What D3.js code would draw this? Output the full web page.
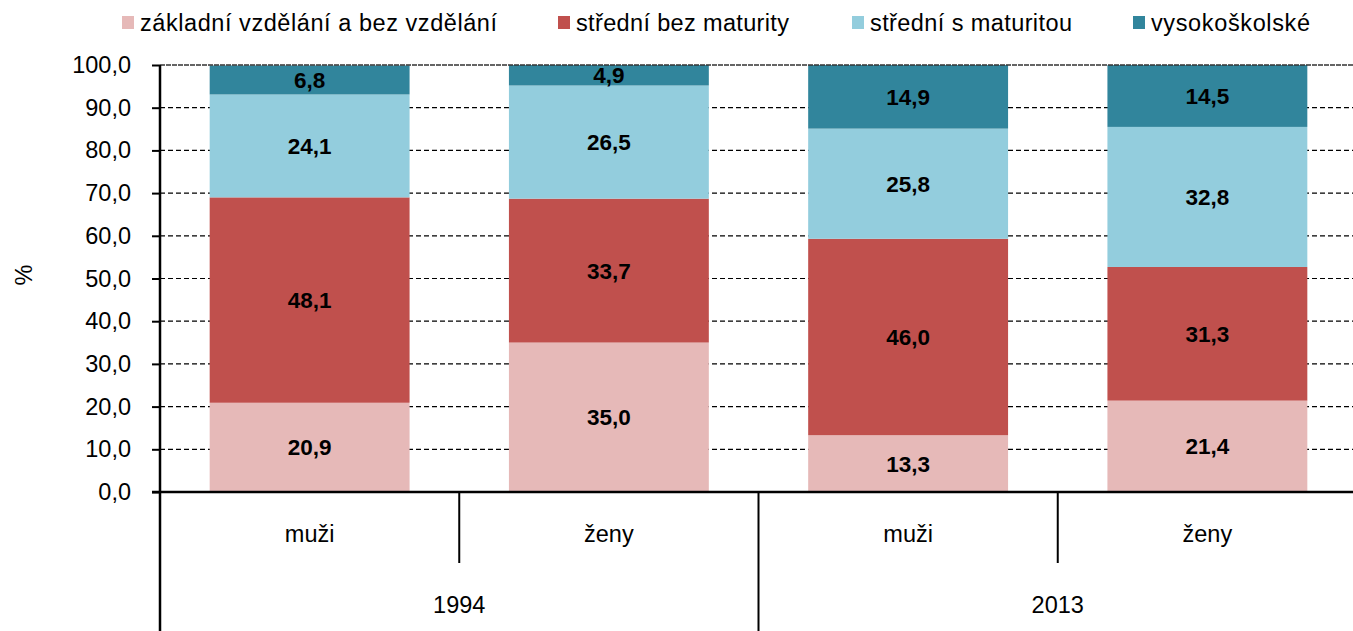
<!DOCTYPE html>
<html>
<head>
<meta charset="utf-8">
<script src="https://cdn.jsdelivr.net/npm/d3@7"></script>
<style>
  body { margin: 0; background: #fff; }
  text { font-family: Arial, "Liberation Sans", sans-serif; fill: #000; }
</style>
</head>
<body>
<div id="chart"></div>
<script>
// data
const years = ["1994", "2013"];
const sexes = ["muži", "ženy"];
const seriesNames = ["základní vzdělání a bez vzdělání", "střední bez maturity", "střední s maturitou", "vysokoškolské"];
const zakladni = [20.9, 35.0, 13.3, 21.4];
const stredniBez = [48.1, 33.7, 46.0, 31.3];
const stredniS = [24.1, 26.5, 25.8, 32.8];
const vysoko = [6.8, 4.9, 14.9, 14.5];
const yTicks = [0, 10, 20, 30, 40, 50, 60, 70, 80, 90, 100];

const colors = ["#E6B9B8", "#C0504D", "#93CDDD", "#31859C"];
const seriesKeys = ["s0", "s1", "s2", "s3"];
const seriesValues = [zakladni, stredniBez, stredniS, vysoko];

const rows = [];
years.forEach((yr, i) => sexes.forEach((sx, j) => {
  const idx = i * sexes.length + j;
  const r = { key: yr + "|" + sx, year: yr, sex: sx };
  seriesKeys.forEach((k, s) => r[k] = seriesValues[s][idx]);
  rows.push(r);
}));

const W = 1353, H = 631;
const plotLeft = 160, plotRight = 1357, plotTop = 65, plotBottom = 492;
const fontSize = "23.5px";

const svg = d3.select("#chart").append("svg")
  .attr("width", W).attr("height", H);

const x = d3.scaleBand()
  .domain(rows.map(d => d.key))
  .range([plotLeft, plotRight])
  .paddingInner(0.332)
  .paddingOuter(0.166);

const y = d3.scaleLinear().domain([0, 100]).range([plotBottom, plotTop]).clamp(true);

const fmt = v => v.toFixed(1).replace(".", ",");

// gridlines
svg.append("g")
  .selectAll("line")
  .data(yTicks.filter(t => t > 0 && t < 100))
  .enter().append("line")
  .attr("x1", plotLeft).attr("x2", W)
  .attr("y1", d => y(d)).attr("y2", d => y(d))
  .attr("stroke", "#000").attr("stroke-width", 1.2)
  .attr("stroke-dasharray", "5,3");

// bars
const stack = d3.stack().keys(seriesKeys)(rows);

const layers = svg.append("g").selectAll("g")
  .data(stack)
  .enter().append("g")
  .attr("fill", (d, i) => colors[i]);

layers.selectAll("rect")
  .data(d => d)
  .enter().append("rect")
  .attr("x", d => x(d.data.key))
  .attr("width", x.bandwidth())
  .attr("y", d => y(d[1]))
  .attr("height", d => y(d[0]) - y(d[1]));

layers.selectAll("text")
  .data(d => d.map(p => ({ p, val: p.data[d.key] })))
  .enter().append("text")
  .attr("x", d => x(d.p.data.key) + x.bandwidth() / 2)
  .attr("y", d => (y(d.p[0]) + y(d.p[1])) / 2)
  .attr("dy", "0.36em")
  .attr("text-anchor", "middle")
  .style("font-size", "22.5px")
  .style("font-weight", "bold")
  .style("fill", "#000")
  .text(d => fmt(d.val));

// top gridline (100) drawn over the bars
svg.append("line")
  .attr("x1", plotLeft).attr("x2", W)
  .attr("y1", y(100)).attr("y2", y(100))
  .attr("stroke", "#333").attr("stroke-width", 1.5)
  .attr("stroke-dasharray", "5,1");

// y axis
const yAxis = svg.append("g")
  .attr("transform", `translate(${plotLeft},0)`)
  .call(d3.axisLeft(y).tickValues(yTicks).tickSize(8).tickSizeOuter(0).tickPadding(21).tickFormat(fmt));
yAxis.select(".domain").remove();
yAxis.selectAll(".tick line").attr("stroke", "#000").attr("stroke-width", 2);
yAxis.selectAll("text")
  .style("font-size", fontSize)
  .style("font-family", "Arial, 'Liberation Sans', sans-serif");

svg.append("line")
  .attr("x1", plotLeft).attr("x2", plotLeft)
  .attr("y1", plotTop).attr("y2", H)
  .attr("stroke", "#000").attr("stroke-width", 2.5);

// x axis line
svg.append("line")
  .attr("x1", plotLeft - 8).attr("x2", W)
  .attr("y1", plotBottom).attr("y2", plotBottom)
  .attr("stroke", "#000").attr("stroke-width", 2.5);

// category separators
const cellStart = k => x(k) - x.step() * x.paddingInner() / 2;
rows.forEach((r, i) => {
  if (i === 0) return;
  const xx = cellStart(r.key);
  svg.append("line")
    .attr("x1", xx).attr("x2", xx)
    .attr("y1", plotBottom).attr("y2", i % sexes.length === 0 ? H : 563)
    .attr("stroke", "#000").attr("stroke-width", 2);
});

// category labels
svg.append("g").selectAll("text")
  .data(rows)
  .enter().append("text")
  .attr("x", d => x(d.key) + x.bandwidth() / 2)
  .attr("y", 542)
  .attr("text-anchor", "middle")
  .style("font-size", fontSize)
  .text(d => d.sex);

// year labels
svg.append("g").selectAll("text")
  .data(years)
  .enter().append("text")
  .attr("x", yr => {
    const ks = rows.filter(r => r.year === yr).map(r => r.key);
    return (cellStart(ks[0]) + cellStart(ks[ks.length - 1]) + x.step()) / 2;
  })
  .attr("y", 613)
  .attr("text-anchor", "middle")
  .style("font-size", fontSize)
  .text(d => d);

// y title
svg.append("text")
  .attr("transform", "translate(32,275) rotate(-90)")
  .attr("text-anchor", "middle")
  .style("font-size", fontSize)
  .text("%");

// legend
const legendX = [122, 558, 852, 1133];
const legendW = [357, 213, 202, 159];
const legend = svg.append("g").selectAll("g")
  .data(seriesNames)
  .enter().append("g")
  .attr("transform", (d, i) => `translate(${legendX[i]},0)`);
legend.append("rect")
  .attr("x", 0).attr("y", 16)
  .attr("width", 12).attr("height", 13)
  .attr("fill", (d, i) => colors[i]);
legend.append("text")
  .attr("x", 18).attr("y", 31)
  .attr("textLength", (d, i) => legendW[i])
  .attr("lengthAdjust", "spacing")
  .style("font-size", fontSize)
  .text(d => d);
</script>
</body>
</html>
